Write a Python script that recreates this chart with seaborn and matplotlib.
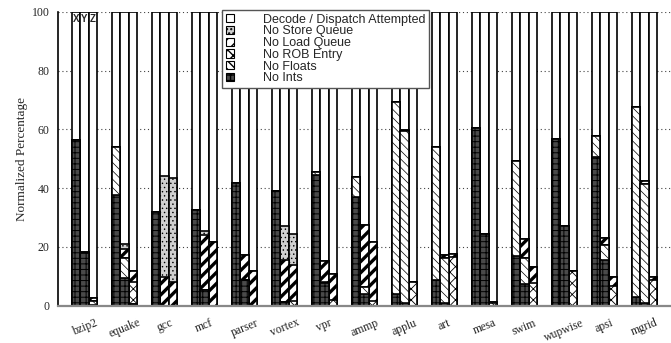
import numpy as np
import pandas as pd
import matplotlib
matplotlib.use("Agg")
import matplotlib.pyplot as plt
import matplotlib.patches as mpatches
import seaborn as sns

benchmarks = ["bzip2", "equake", "gcc", "mcf", "parser", "vortex", "vpr", "ammp",
              "applu", "art", "mesa", "swim", "wupwise", "apsi", "mgrid"]
configs = ["X", "Y", "Z"]

# Share of cycles (in %) per stall reason, one list per configuration
no_ints = {
    "X": [56.4, 37.7, 31.8, 32.6, 41.6, 39.0, 44.5, 37.1, 4.0, 8.7, 60.3, 17.0, 56.6, 50.7, 2.9],
    "Y": [17.8, 9.3, 0.0, 5.3, 8.7, 1.4, 7.6, 4.0, 1.0, 0.8, 24.3, 7.3, 27.1, 15.5, 1.0],
    "Z": [0.3, 0.5, 0.0, 0.0, 0.0, 0.0, 0.0, 0.0, 0.0, 0.0, 0.0, 0.0, 0.0, 0.0, 0.0],
}
no_floats = {
    "X": [0.0, 16.2, 0.0, 0.0, 0.0, 0.0, 1.1, 6.6, 65.4, 45.4, 0.0, 32.3, 0.0, 7.1, 64.6],
    "Y": [0.0, 6.8, 0.0, 0.0, 0.0, 0.0, 0.0, 2.5, 58.5, 15.3, 0.0, 9.0, 0.0, 5.1, 40.3],
    "Z": [1.2, 0.0, 0.0, 0.0, 0.0, 0.0, 0.0, 0.0, 0.0, 0.0, 0.0, 0.0, 0.0, 0.0, 0.0],
}
no_rob = {
    "X": [0.0] * 15,
    "Y": [0.0, 0.0, 0.0, 0.0, 0.0, 0.0, 0.6, 0.0, 0.0, 0.0, 0.0, 0.0, 0.0, 0.0, 0.0],
    "Z": [0.0, 7.7, 0.0, 0.0, 0.0, 1.5, 2.0, 1.5, 8.2, 16.7, 0.8, 7.6, 11.8, 6.7, 8.7],
}
no_load_queue = {
    "X": [0.0] * 15,
    "Y": [0.3, 3.1, 9.7, 18.7, 8.4, 14.1, 7.1, 20.9, 0.3, 1.1, 0.0, 6.3, 0.0, 2.3, 1.1],
    "Z": [1.2, 3.6, 8.2, 21.8, 11.8, 12.3, 8.7, 20.1, 0.0, 0.8, 0.6, 5.5, 0.0, 3.0, 1.0],
}
no_store_queue = {
    "X": [0.0] * 15,
    "Y": [0.0, 1.7, 34.5, 1.5, 0.0, 11.6, 0.0, 0.0, 0.0, 0.0, 0.0, 0.0, 0.0, 0.0, 0.0],
    "Z": [0.0, 0.0, 35.1, 0.0, 0.0, 10.6, 0.0, 0.0, 0.0, 0.0, 0.0, 0.0, 0.0, 0.0, 0.0],
}

# Stacking order, bottom to top; "Decode / Dispatch Attempted" fills up to 100 %
stack = [
    ("No Ints", no_ints),
    ("No Floats", no_floats),
    ("No ROB Entry", no_rob),
    ("No Load Queue", no_load_queue),
    ("No Store Queue", no_store_queue),
]

styles = {
    "Decode / Dispatch Attempted": dict(face="white", hatch="", hlw=1.0),
    "No Store Queue": dict(face="#d0d0d0", hatch="....", hlw=0.5),
    "No Load Queue": dict(face="white", hatch="///", hlw=2.4),
    "No ROB Entry": dict(face="white", hatch="xxx", hlw=0.6),
    "No Floats": dict(face="white", hatch="\\\\\\\\", hlw=0.5),
    "No Ints": dict(face="#4a4a4a", hatch="+++", hlw=0.7),
}

# Long table with cumulative heights for every layer
rows = []
for cfg in configs:
    for i, b in enumerate(benchmarks):
        cum = 0.0
        for name, comp in stack:
            cum += comp[cfg][i]
            rows.append(dict(bench=b, config=cfg, layer=name, top=cum))
        rows.append(dict(bench=b, config=cfg, layer="Decode / Dispatch Attempted", top=100.0))
df = pd.DataFrame(rows)

sns.set_style("white")
plt.rcParams["font.family"] = ["Liberation Serif", "DejaVu Serif"]

fig = plt.figure(figsize=(6.71, 3.43), dpi=100)
ax = fig.add_axes([58 / 671, 1 - 305.7 / 343, 1 - 58 / 671, 294 / 343])

group_width = 0.62
draw_order = ["Decode / Dispatch Attempted", "No Store Queue", "No Load Queue",
              "No ROB Entry", "No Floats", "No Ints"]
for layer in draw_order:
    st = styles[layer]
    n_before = len(ax.patches)
    sns.barplot(data=df[df.layer == layer], x="bench", y="top", hue="config",
                order=benchmarks, hue_order=configs,
                palette={c: st["face"] for c in configs}, saturation=1,
                dodge=True, width=group_width, gap=0, errorbar=None,
                edgecolor="black", linewidth=1.2, legend=False, ax=ax)
    for p in ax.patches[n_before:]:
        p.set_hatch(st["hatch"])
        if hasattr(p, "set_hatch_linewidth"):
            p.set_hatch_linewidth(st["hlw"])

# Configuration letters on top of the first group
bar_w = group_width / len(configs)
for k, cfg in enumerate(configs):
    ax.text(0 + (k - 1) * bar_w, 97.5, cfg, ha="center", va="center",
            fontsize=7, fontweight="bold", family="Liberation Sans")

ax.set_xlim(-0.66, len(benchmarks) - 1 + 0.66)
ax.set_ylim(0, 100)
ax.set_yticks([0, 20, 40, 60, 80, 100])
ax.yaxis.grid(True, linestyle=(0, (1, 2.5)), color="#444444", linewidth=0.8)
ax.set_axisbelow(True)
for s in ["top", "right"]:
    ax.spines[s].set_visible(False)
ax.spines["left"].set_color("black")
ax.spines["left"].set_linewidth(1.2)
ax.spines["bottom"].set_color("#888888")
ax.spines["bottom"].set_linewidth(1.6)
ax.tick_params(axis="y", length=0, pad=6, labelsize=8.5)
ax.tick_params(axis="x", length=0, pad=8, labelsize=8.5)
for lbl in ax.get_xticklabels():
    lbl.set_rotation(22)
    lbl.set_ha("center")
ax.set_xlabel("")
ax.set_ylabel("Normalized Percentage", fontsize=9.5, labelpad=3)

handles = []
for layer in draw_order:
    st = styles[layer]
    h = mpatches.Patch(facecolor=st["face"], edgecolor="black", hatch=st["hatch"],
                       linewidth=0.8, label=layer)
    if hasattr(h, "set_hatch_linewidth"):
        h.set_hatch_linewidth(min(st["hlw"], 1.2))
    handles.append(h)
leg = ax.legend(handles=handles, loc="upper left", bbox_to_anchor=(0.2675, 1.006),
                frameon=True, fancybox=False, framealpha=1, edgecolor="#555555",
                prop=dict(family="Liberation Sans", size=9.0),
                handlelength=0.65, handleheight=0.65, handletextpad=2.3,
                labelspacing=-0.02, borderpad=0.3, borderaxespad=0)
leg.get_frame().set_linewidth(1.0)

fig.savefig("out.png", dpi=100)
